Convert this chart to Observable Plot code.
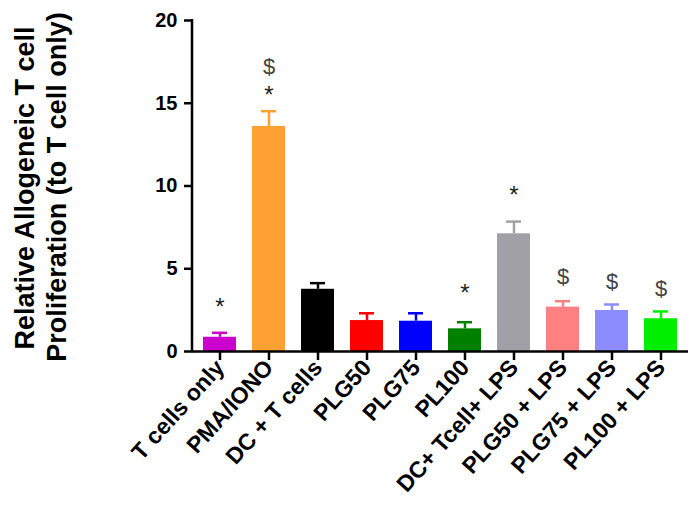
<!DOCTYPE html>
<html>
<head>
<meta charset="utf-8">
<script src="https://cdn.jsdelivr.net/npm/d3@7"></script>
<script src="https://cdn.jsdelivr.net/npm/@observablehq/plot@0.6"></script>
<style>
  html, body { margin: 0; padding: 0; background: #fff; }
  #chart { width: 700px; height: 525px; }
</style>
</head>
<body>
<div id="chart"></div>
<script>
const categories = ["T cells only", "PMA/IONO", "DC + T cells", "PLG50", "PLG75", "PL100",
  "DC+ Tcell+ LPS", "PLG50 + LPS", "PLG75 + LPS", "PL100 + LPS"];
const means  = [0.86, 13.6, 3.76, 1.87, 1.83, 1.37, 7.11, 2.68, 2.48, 1.98];
const errors = [0.27, 0.92, 0.37, 0.44, 0.48, 0.40, 0.74, 0.36, 0.36, 0.44];
const colors = ["#cc00cc", "#ffa033", "#000000", "#ff0000", "#0000ff", "#008000",
  "#a0a0a6", "#ff8080", "#8c8cff", "#00ee00"];
const starCats = ["T cells only", "PMA/IONO", "PL100", "DC+ Tcell+ LPS"];
const starY    = [3.0, 15.8, 3.8, 9.73];
const dollarCats = ["PMA/IONO", "PLG50 + LPS", "PLG75 + LPS", "PL100 + LPS"];
const dollarY    = [17.2, 4.53, 4.23, 3.8];
const yTicks = [0, 5, 10, 15, 20];
const yTitle = ["Relative Allogeneic T cell", "Proliferation (to T cell only)"];

const bars = categories.map((c, i) => ({cat: c, mean: means[i], top: means[i] + errors[i], color: colors[i]}));
const stars = starCats.map((c, i) => ({cat: c, y: starY[i]}));
const dollars = dollarCats.map((c, i) => ({cat: c, y: dollarY[i]}));

const font = "'Liberation Sans', Arial, sans-serif";

const plot = Plot.plot({
  width: 700,
  height: 525,
  marginTop: 20,
  marginBottom: 174,
  marginLeft: 192,
  marginRight: 12,
  style: {fontFamily: font, background: "#fff"},
  x: {domain: categories, paddingInner: 0.33, paddingOuter: 0.186, label: null},
  y: {domain: [0, 20], label: null},
  marks: [
    Plot.ruleX(bars, {x: "cat", y1: "mean", y2: "top", stroke: "color", strokeWidth: 2.5}),
    Plot.tickY(bars, {x: "cat", y: "top", stroke: "color", strokeWidth: 2.5, insetLeft: 9, insetRight: 9}),
    Plot.barY(bars, {x: "cat", y: "mean", fill: "color"}),
    Plot.ruleY([0], {stroke: "#000", strokeWidth: 2.5}),
    Plot.axisY({ticks: yTicks, tickSize: 8, tickPadding: 7, tickFormat: d => d,
      fontSize: 20, fontWeight: "bold", stroke: "#000", strokeWidth: 2.5, fill: "#000"}),
    Plot.axisX({tickSize: 9, tickPadding: 3, tickRotate: -48, fontSize: 23, fontWeight: "bold",
      stroke: "#000", strokeWidth: 2.5, fill: "#000"}),
    Plot.text(stars, {x: "cat", y: "y", text: () => "*", fontSize: 24, fill: "#222", dy: 5}),
    Plot.text(dollars, {x: "cat", y: "y", text: () => "$", fontSize: 22, fill: "#444"}),
    Plot.text([yTitle[0]], {frameAnchor: "left", textAnchor: "middle", dx: -167, dy: 2, rotate: -90, fontSize: 27,
      fontWeight: "bold", fill: "#000"}),
    Plot.text([yTitle[1]], {frameAnchor: "left", textAnchor: "middle", dx: -135, dy: 1, rotate: -90, fontSize: 27,
      fontWeight: "bold", fill: "#000"})
  ]
});

// y-axis line drawn from the plot's own scales
const ys = plot.scale("y");
const svg = d3.select(plot);
svg.append("line")
  .attr("x1", 192).attr("x2", 192)
  .attr("y1", ys.apply(20) - 1).attr("y2", ys.apply(0) + 1.25)
  .attr("stroke", "#000").attr("stroke-width", 2.5);

document.getElementById("chart").appendChild(plot);
</script>
</body>
</html>
